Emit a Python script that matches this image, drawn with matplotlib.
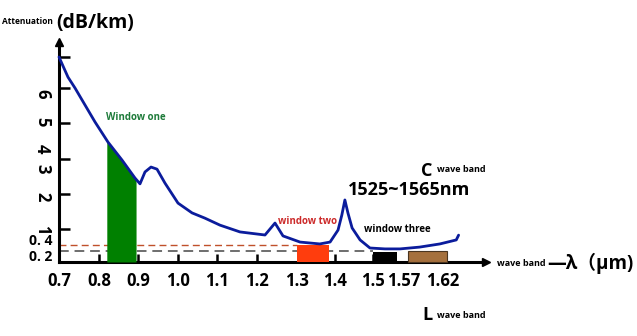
import matplotlib
matplotlib.use('Agg')
import matplotlib.pyplot as plt
import numpy as np

plt.rcParams['font.family'] = ['Open Sans', 'Noto Sans CJK SC', 'DejaVu Sans']
plt.rcParams['font.weight'] = 'bold'

# loss curve of the fibre: wavelength (um) -> attenuation (dB/km)
wavelength = [0.70, 0.71, 0.7225, 0.74, 0.7575, 0.79, 0.823, 0.859, 0.892, 0.905, 0.9175,
              0.9325, 0.9475, 0.9675, 1.0, 1.036, 1.069, 1.1075, 1.1575, 1.22,
              1.245, 1.265, 1.308, 1.36, 1.387, 1.408, 1.418, 1.426, 1.434,
              1.445, 1.466, 1.492, 1.527, 1.561, 1.59, 1.616, 1.637, 1.64]
attenuation = [6.0, 5.71, 5.35, 5.0, 4.66, 4.03, 3.47, 2.97, 2.46, 2.29, 2.63,
               2.77, 2.71, 2.31, 1.74, 1.46, 1.31, 1.11, 0.89, 0.775,
               1.17, 0.74, 0.51, 0.44, 0.51, 0.96, 1.4, 1.83, 1.46,
               1.03, 0.59, 0.3, 0.27, 0.27, 0.33, 0.44, 0.59, 0.77]

# low-loss windows (start, end in um) and their heights (dB/km)
window_one = (0.82, 0.895)
window_two = (1.30, 1.385)
window_three = (1.50, 1.555)
l_band = (1.575, 1.625)
window_two_level = 0.4
window_three_level = 0.18
l_band_level = 0.2

# dashed reference losses
loss_04 = 0.4
loss_02 = 0.2

x_ticks = [0.7, 0.8, 0.9, 1.0, 1.1, 1.2, 1.3, 1.4, 1.5, 1.57, 1.62]
x_tick_labels = ['0.7', '0.8', '0.9', '1.0', '1.1', '1.2', '1.3', '1.4', '1.5', '1.57', '1.62']
x_marks = [0.8, 0.9, 1.0, 1.1, 1.2, 1.4, 1.5]
y_marks = [1, 2, 3, 4, 5, 6]
y_labels = ['6', '5', '4', '3', '2', '1']

# the axes are drawn by hand, so both scales are piecewise linear
X_KNOTS = [-5.0, 0.7, 0.8, 0.9, 1.0, 1.1, 1.2, 1.3, 1.4, 1.5, 1.57, 1.62, 5.0]
X_POS = [-2221, 59, 99, 138, 178, 217, 257, 297, 335, 373, 404, 443, 3079]
Y_KNOTS = [-20, 0, 0.2, 0.4, 1, 2, 3, 4, 5, 6, 20]
Y_POS = [-1026, 74, 85, 91, 107, 142, 177, 213, 248, 279, 713]

W, H = 637, 336


def fwd_x(v):
    return np.interp(v, X_KNOTS, X_POS)


def inv_x(p):
    return np.interp(p, X_POS, X_KNOTS)


def fwd_y(v):
    return np.interp(v, Y_KNOTS, Y_POS)


def inv_y(p):
    return np.interp(p, Y_POS, Y_KNOTS)


fig = plt.figure(figsize=(W / 100, H / 100), dpi=100)
ax = fig.add_axes([0, 0, 1, 1])
ax.set_xscale('function', functions=(fwd_x, inv_x))
ax.set_yscale('function', functions=(fwd_y, inv_y))
ax.set_xlim(float(inv_x(0)), float(inv_x(W)))
ax.set_ylim(float(inv_y(0)), float(inv_y(H)))


def put(x, y, s, **kw):
    # text placed in pixel units from the top-left corner
    fig.text(x / W, 1 - y / H, s, ha='center', va='center', **kw)


# axes with arrows
for side in ['top', 'right']:
    ax.spines[side].set_visible(False)
ax.spines['left'].set_position(('data', 0.7))
ax.spines['bottom'].set_position(('data', 0))
ax.spines['left'].set_bounds(0, 6.5)
ax.spines['bottom'].set_bounds(0.7, 1.67)
ax.spines['left'].set_linewidth(2.2)
ax.spines['bottom'].set_linewidth(2.2)
ax.plot(0.7, 6.5, marker='^', ms=6, color='k', clip_on=False, zorder=6)
ax.plot(1.675, 0, marker='>', ms=6, color='k', clip_on=False, zorder=6)

ax.xaxis.remove_overlapping_locs = False
ax.set_xticks(x_ticks, x_tick_labels)
ax.set_xticks(x_marks, minor=True)
ax.tick_params(axis='x', which='major', length=0, pad=7, labelsize=12)
ax.tick_params(axis='x', which='minor', direction='in', length=6, width=1.8)
ax.set_yticks(y_marks, [])
ax.tick_params(axis='y', which='major', direction='in', length=8, width=1.8)
ax.yaxis.set_minor_locator(matplotlib.ticker.NullLocator())

# dashed loss levels
ax.plot([0.7, window_two[0]], [loss_04, loss_04], color='#c0502a', lw=1.0, dashes=(5, 3), zorder=2)
ax.plot([0.7, window_three[0]], [loss_02, loss_02], color='#6e6e6e', lw=1.4, dashes=(5, 3), zorder=2)

# window one: area under the curve
wl = np.array(wavelength)
att = np.array(attenuation)
inside = (wl > window_one[0]) & (wl < window_one[1])
xs = np.concatenate([[window_one[0]], wl[inside], [window_one[1]]])
ax.fill_between(xs, 0, np.interp(xs, wl, att), color='#008000', lw=0, zorder=3)

# other windows as blocks
ax.bar(window_two[0], window_two_level, width=window_two[1] - window_two[0], align='edge',
       color='#ff3d0d', zorder=3)
ax.bar(window_three[0], window_three_level, width=window_three[1] - window_three[0], align='edge',
       color='#000000', zorder=3)
ax.bar(l_band[0], l_band_level, width=l_band[1] - l_band[0], align='edge',
       color='#a5703d', edgecolor='#4a3520', lw=0.8, zorder=3)

ax.plot(wl, att, color='#0b1c9c', lw=2.0, solid_joinstyle='round', solid_capstyle='round', zorder=5)

# labels
put(27, 21, 'Attenuation', fontsize=6)
put(95, 23, '(dB/km)', fontsize=14)
for lab, yy in zip(y_labels, [94, 122, 149, 169, 197, 230]):
    put(42, yy, lab, fontsize=12, rotation=-90)
put(41, 241, '0. 4', fontsize=10)
put(41, 257, '0. 2', fontsize=10)

put(136, 117, 'Window one', fontsize=7, color='#1e7b3a')
put(308, 222, 'window two', fontsize=7, color='#cc2a2a')
put(397, 230, 'window three', fontsize=7)

put(427, 171, 'C', fontsize=13)
put(461, 170, 'wave band', fontsize=6.5)
put(409, 190, '1525~1565nm', fontsize=13)

put(521, 263, 'wave band', fontsize=6.5)
put(590, 263, '—λ（μm)', fontsize=13.5)

put(427, 315, 'L', fontsize=13)
put(461, 316, 'wave band', fontsize=6.5)

fig.savefig('out.png', dpi=100)
